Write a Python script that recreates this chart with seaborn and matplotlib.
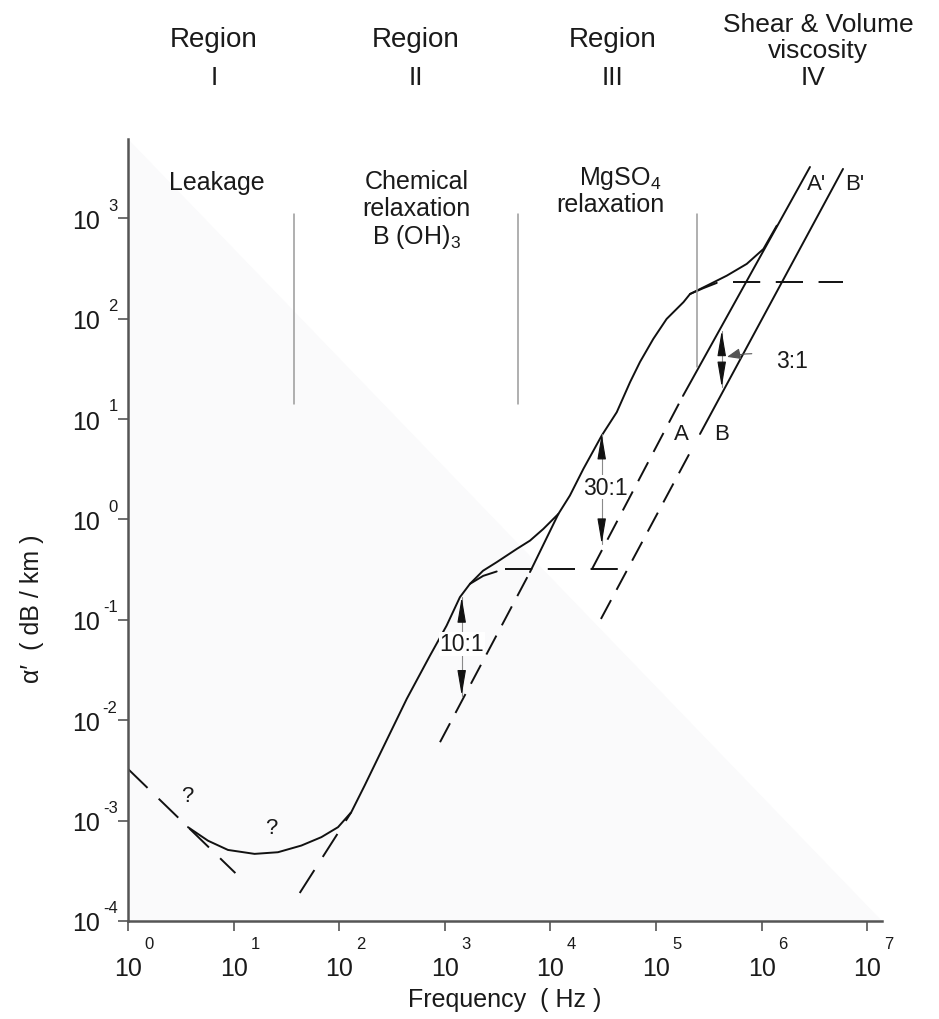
import matplotlib
matplotlib.use("Agg")
import matplotlib.pyplot as plt
import seaborn as sns

# ---- values (frequency in Hz, attenuation in dB/km) ----
total_freq = [3.70, 5.73, 8.85, 15.8, 26.3, 43.8, 67.8, 97.5, 130, 174, 243, 436, 724,
              1040, 1390, 1730, 2300, 3100, 4800, 6410, 8570, 11900, 15300, 20500, 30600,
              42500, 56800, 70500, 94200, 126000, 182000, 210000, 303000, 468000, 723000,
              1040000, 1390000]
total_alpha = [8.6e-4, 6.3e-4, 5.1e-4, 4.66e-4, 4.84e-4, 5.64e-4, 6.84e-4, 8.6e-4, 1.21e-3,
               2.23e-3, 4.6e-3, 1.63e-2, 4.40e-2, 8.75e-2, 0.168, 0.228, 0.308, 0.375,
               0.508, 0.615, 0.804, 1.135, 1.73, 3.18, 6.84, 11.7, 23.3, 37.0, 62.8, 99.3,
               146, 176, 213, 268, 351, 494, 843]

leak_freq = [1.0, 10.4]
leak_alpha = [3.27e-3, 3.0e-4]

boric_low_freq = [42.3, 130]
boric_low_alpha = [1.9e-4, 1.21e-3]
boric_knee_freq = [1730, 2310, 3100]
boric_knee_alpha = [0.228, 0.274, 0.303]
boric_plateau_freq = [3720, 54300]
boric_plateau_alpha = [0.32, 0.32]

mgso4_low_freq = [901, 6410]
mgso4_low_alpha = [6.04e-3, 0.299]
mgso4_join_freq = [6410, 11900]
mgso4_join_alpha = [0.299, 1.135]
mgso4_knee_freq = [210000, 280000, 376000]
mgso4_knee_alpha = [176, 201, 227]
mgso4_plateau_freq = [536000, 5.9e6]
mgso4_plateau_alpha = [231, 231]

a_dash_freq = [24800, 180000]
a_dash_alpha = [0.321, 17.0]
a_solid_freq = [180000, 2.87e6]
a_solid_alpha = [17.0, 3240]
b_dash_freq = [30100, 219000]
b_dash_alpha = [0.102, 5.04]
b_solid_freq = [261000, 5.9e6]
b_solid_alpha = [7.10, 3100]

region_bounds = [37.3, 4900, 243000]
region_tops = [1104, 1104, 1104]
region_bottoms = [14.1, 14.1, 33.0]

ratio_labels = ["10:1", "30:1", "3:1"]
ratio_freq = [1445, 30600, 419000]
ratio_top = [0.168, 7.11, 75.9]
ratio_bottom = [1.76e-2, 0.57, 20.8]

decades_x = list(range(0, 8))
decades_y = list(range(-4, 4))

sns.set_theme(style="ticks")
plt.rcParams["font.family"] = ["Liberation Sans", "DejaVu Sans"]
plt.rcParams["mathtext.fontset"] = "custom"
plt.rcParams["mathtext.rm"] = "Liberation Sans"
plt.rcParams["mathtext.default"] = "regular"

fig = plt.figure(figsize=(9.39, 10.2), dpi=100)
ax = fig.add_axes([0.1363, 0.0961, 0.8030, 0.7667])
ax.set_xscale("log")
ax.set_yscale("log")
ax.set_xlim(1, 10 ** 7.14)
ax.set_ylim(1e-4, 10 ** 3.79)

# faint shading of the scanned original
ax.fill([0, 0, 1], [1, 0, 0], transform=ax.transAxes, color="#fafafb", zorder=0, lw=0)

ink = "#111111"
DASH = (0, (11, 6))
LONG = (0, (14, 8))


def draw(f, a, ls="-", lw=1.4):
    sns.lineplot(x=f, y=a, ax=ax, color=ink, lw=lw, linestyle=ls,
                 estimator=None, sort=False, legend=False)


draw(total_freq, total_alpha)
draw(leak_freq, leak_alpha, LONG)
draw(boric_low_freq, boric_low_alpha, LONG)
draw(boric_knee_freq, boric_knee_alpha)
draw(boric_plateau_freq, boric_plateau_alpha, LONG)
draw(mgso4_low_freq, mgso4_low_alpha, DASH)
draw(mgso4_join_freq, mgso4_join_alpha)
draw(mgso4_knee_freq, mgso4_knee_alpha)
draw(mgso4_plateau_freq, mgso4_plateau_alpha, LONG)
draw(a_dash_freq, a_dash_alpha, DASH)
draw(a_solid_freq, a_solid_alpha)
draw(b_dash_freq, b_dash_alpha, DASH)
draw(b_solid_freq, b_solid_alpha)

# region separators
for xb, yt, yb in zip(region_bounds, region_tops, region_bottoms):
    ax.plot([xb, xb], [yb, yt], color="#9a9a9a", lw=1.1)

# ratio arrows
for lab, xf, yt, yb in zip(ratio_labels, ratio_freq, ratio_top, ratio_bottom):
    ax.plot([xf, xf], [yb, yt], color="#8a8a8a", lw=0.8)
    for tip, back in [(yt, yt / 10 ** 0.2), (yb, yb * 10 ** 0.2)]:
        ax.annotate("", xy=(xf, tip), xytext=(xf, back),
                    arrowprops=dict(arrowstyle="-|>,head_length=1.3,head_width=0.22",
                                    color=ink, lw=0.8, shrinkA=0, shrinkB=0))

txt = dict(color="#1a1a1a")
ax.text(1445, 5.75e-2, "10:1", ha="center", va="center", fontsize=16.5,
        bbox=dict(fc="white", ec="none", pad=0.5), **txt)
ax.text(32900, 2.1, "30:1", ha="center", va="center", fontsize=16.5,
        bbox=dict(fc="white", ec="none", pad=0.5), **txt)
ax.annotate("3:1", xy=(470000, 41.6), xytext=(1.93e6, 38.2), ha="center", va="center",
            fontsize=16.5, **txt,
            arrowprops=dict(arrowstyle="-|>,head_length=0.5,head_width=0.2",
                            connectionstyle="arc3,rad=0.15", color="#555555", lw=0.8,
                            shrinkA=15, shrinkB=0))

# labels inside the plot
ax.text(6.92, 2320, "Leakage", ha="center", va="center", fontsize=18, **txt)
ax.text(542, 2370, "Chemical", ha="center", va="center", fontsize=18, **txt)
ax.text(542, 1259, "relaxation", ha="center", va="center", fontsize=18, **txt)
ax.text(542, 671, "B (OH)$_{3}$", ha="center", va="center", fontsize=18, **txt)
ax.text(45600, 2560, "MgSO$_{4}$", ha="center", va="center", fontsize=18, **txt)
ax.text(36700, 1388, "relaxation", ha="center", va="center", fontsize=18, **txt)
ax.text(3.32e6, 2200, "A'", ha="center", va="center", fontsize=16, **txt)
ax.text(7.66e6, 2200, "B'", ha="center", va="center", fontsize=16, **txt)
ax.text(175000, 7.11, "A", ha="center", va="center", fontsize=16, **txt)
ax.text(422000, 7.11, "B", ha="center", va="center", fontsize=16, **txt)
ax.text(3.64, 1.77e-3, "?", ha="center", va="center", fontsize=16, **txt)
ax.text(22.5, 8.6e-4, "?", ha="center", va="center", fontsize=16, **txt)

# axes styling
sns.despine(ax=ax)
for side in ["left", "bottom"]:
    ax.spines[side].set_color("#555555")
    ax.spines[side].set_linewidth(1.8)
ax.minorticks_off()
ax.set_xticks([10.0 ** e for e in decades_x])
ax.set_yticks([10.0 ** e for e in decades_y])
ax.set_xticklabels(["10"] * len(decades_x))
ax.set_yticklabels(["10"] * len(decades_y))
ax.tick_params(axis="both", direction="out", length=7, width=1.2, color="#555555",
               labelsize=18, labelcolor="#1a1a1a")
ax.tick_params(axis="x", pad=18)
ax.tick_params(axis="y", pad=13)
ax.grid(False)

for e in decades_x:
    ax.annotate(str(e), xy=(10.0 ** e, 0), xycoords=("data", "axes fraction"),
                xytext=(12, -11), textcoords="offset points", ha="left", va="top",
                fontsize=12, **txt)
for e in decades_y:
    ax.annotate(str(e), xy=(0, 10.0 ** e), xycoords=("axes fraction", "data"),
                xytext=(-7.5, 4), textcoords="offset points", ha="right", va="bottom",
                fontsize=12, **txt)

ax.set_xlabel("Frequency  ( Hz )", fontsize=18, color="#1a1a1a")
ax.xaxis.set_label_coords(0.5, -0.085)
ax.set_ylabel("\u03b1\u2032  ( dB / km )", fontsize=18, color="#1a1a1a")
ax.yaxis.set_label_coords(-0.112, 0.4)

# region headings above the plot
for xc, roman in zip([214, 416, 613], ["I", "II", "III"]):
    fig.text(xc / 939, 1 - 40 / 1020, "Region", ha="center", va="center", fontsize=20, **txt)
    fig.text(xc / 939, 1 - 78 / 1020, roman, ha="center", va="center", fontsize=19, **txt)
fig.text(818 / 939, 1 - 25 / 1020, "Shear & Volume", ha="center", va="center", fontsize=19, **txt)
fig.text(818 / 939, 1 - 51 / 1020, "viscosity", ha="center", va="center", fontsize=19, **txt)
fig.text(813 / 939, 1 - 78 / 1020, "IV", ha="center", va="center", fontsize=19, **txt)

fig.savefig("out.png", dpi=100, facecolor="white")
